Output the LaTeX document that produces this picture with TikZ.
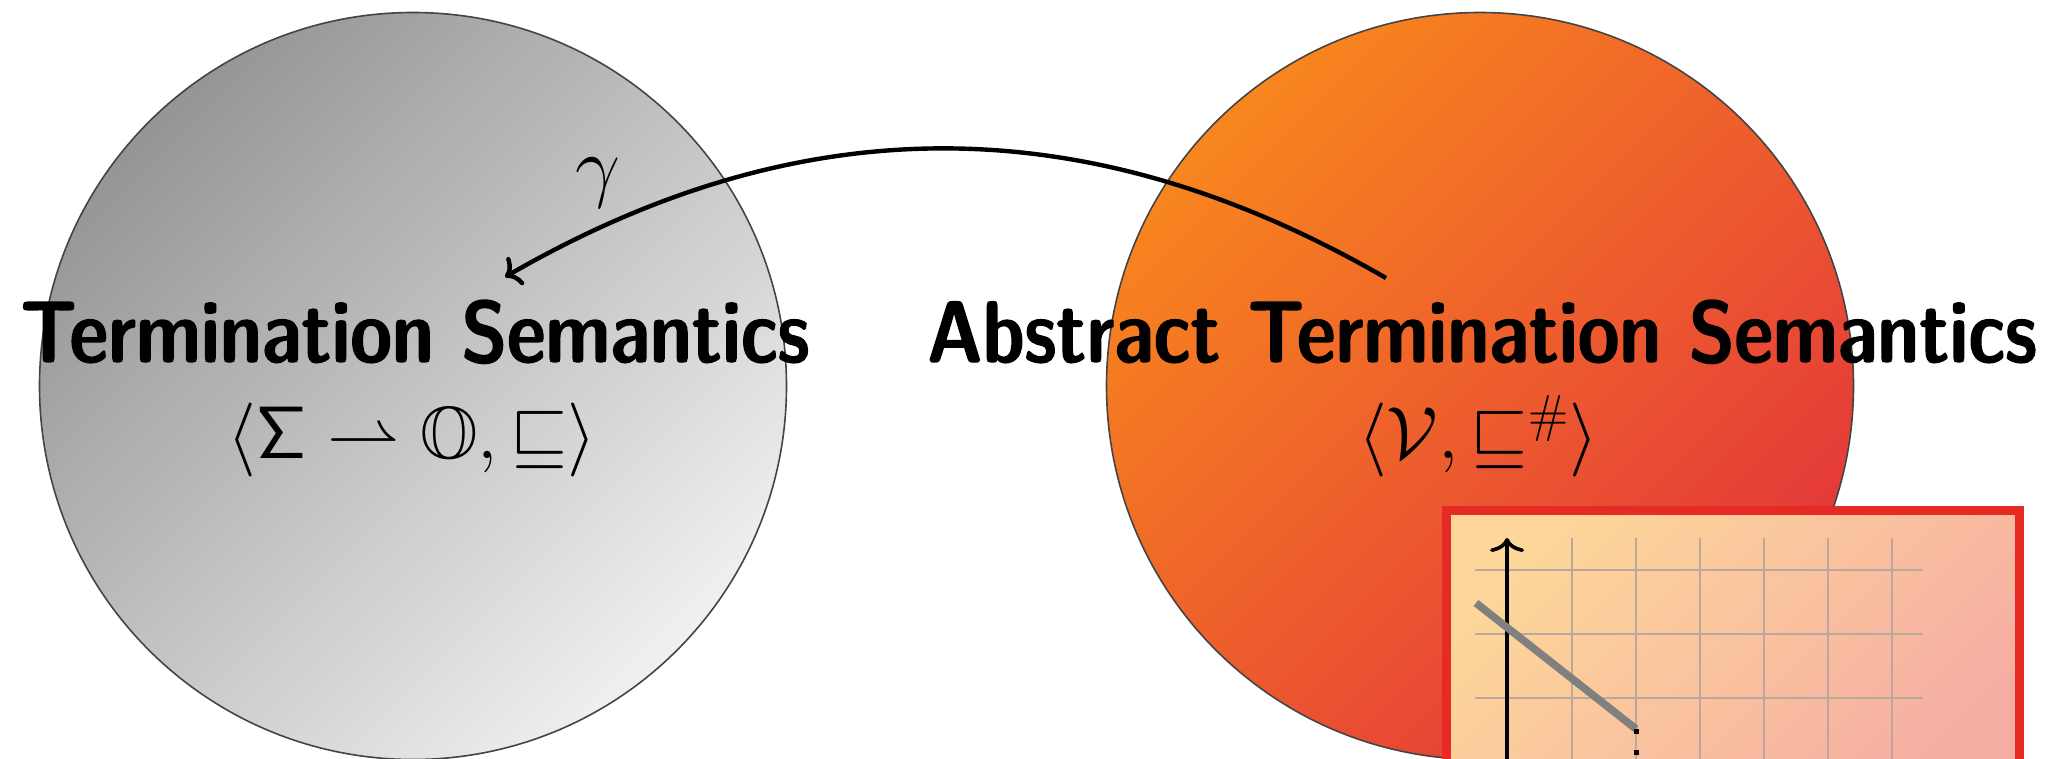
\RequirePackage{fix-cm}
\documentclass[tikz,border=0pt]{standalone}
\usepackage{amssymb}
\usetikzlibrary{arrows.meta}
\definecolor{cgrayA}{HTML}{959595}
\definecolor{cgrayB}{HTML}{F0F0F0}
\definecolor{corA}{HTML}{F8861E}
\definecolor{corB}{HTML}{E3363B}
\definecolor{cboxA}{HTML}{FDD69A}
\definecolor{cboxB}{HTML}{F5ACA3}
\definecolor{cboxR}{HTML}{E52B24}
\definecolor{cedge}{HTML}{444444}
\definecolor{cgridl}{HTML}{BBA89C}
\newcommand{\heavytext}[1]{\special{pdf:literal direct 2 Tr 0.7 w 0 j}#1\special{pdf:literal direct 0 Tr}}
\tikzset{
  blob/.style={circle, draw=cedge, line width=0.8pt, minimum size=373.5pt, inner sep=0pt},
  titletext/.style={anchor=base, font=\fontsize{43.5}{52}\selectfont\sffamily\fontseries{sbc}\selectfont, inner sep=0pt},
  mathtext/.style={anchor=base, font=\fontsize{37}{44}\selectfont, inner sep=0pt},
  gridline/.style={draw=cgridl, line width=0.65pt},
}
\begin{document}
\begin{tikzpicture}[x=0.5pt,y=-0.5pt]
\clip (0,0) rectangle (2050,759);
\useasboundingbox (0,0) rectangle (2050,759);
\node[blob, top color=cgrayA, bottom color=cgrayB, shading angle=45] (L) at (413,386) {};
\node[blob, top color=corA, bottom color=corB, shading angle=45] (R) at (1480,386) {};
% inset
\shade[top color=cboxA, bottom color=cboxB, shading angle=45] (1446,510) rectangle (2019,830);
\draw[cboxR, line width=4.5pt] (1446,510) rectangle (2019,830);
\foreach \y in {570,634,698} \draw[gridline] (1475,\y) -- (1923,\y);
\foreach \x in {1572,1636,1700,1764,1828,1892} \draw[gridline] (\x,538) -- (\x,830);
\coordinate (axb) at (1507,830);
\coordinate (axt) at (1507,538);
\draw[line width=1.8pt, -{To[length=7pt,width=17pt]}] (axb) -- (axt);
\coordinate (g1) at (1476,603);
\coordinate (g2) at (1636,729);
\draw[line width=3.8pt, color=gray] (g1) -- (g2);
\coordinate (d1) at (1636,729);
\coordinate (d2) at (1636,800);
\draw[line width=2.5pt, dash pattern=on 2.5pt off 8pt] (d1) -- (d2);
% texts
\node[titletext] (t1) at (415,362) {\heavytext{Termination Semantics}};
\node[titletext] (t2) at (1482,362) {\heavytext{Abstract Termination Semantics}};
\node[mathtext] (m1) at (412,458) {$\langle\mathsf{\Sigma}\rightharpoonup\mathbb{O},\sqsubseteq\rangle$};
\node[mathtext] (m2) at (1478,458) {$\langle\mathcal{V},\sqsubseteq^{\#}\rangle$};
% arrow
\coordinate (a1) at (1386,278);
\coordinate (a2) at (505,277);
\draw[line width=2.2pt, -{To[length=7pt,width=16pt]}] (a1) to[out=150,in=30] (a2);
\node[font=\fontsize{40}{46}\selectfont, inner sep=0pt] (gam) at (598,183) {$\gamma$};
\end{tikzpicture}
\end{document}
